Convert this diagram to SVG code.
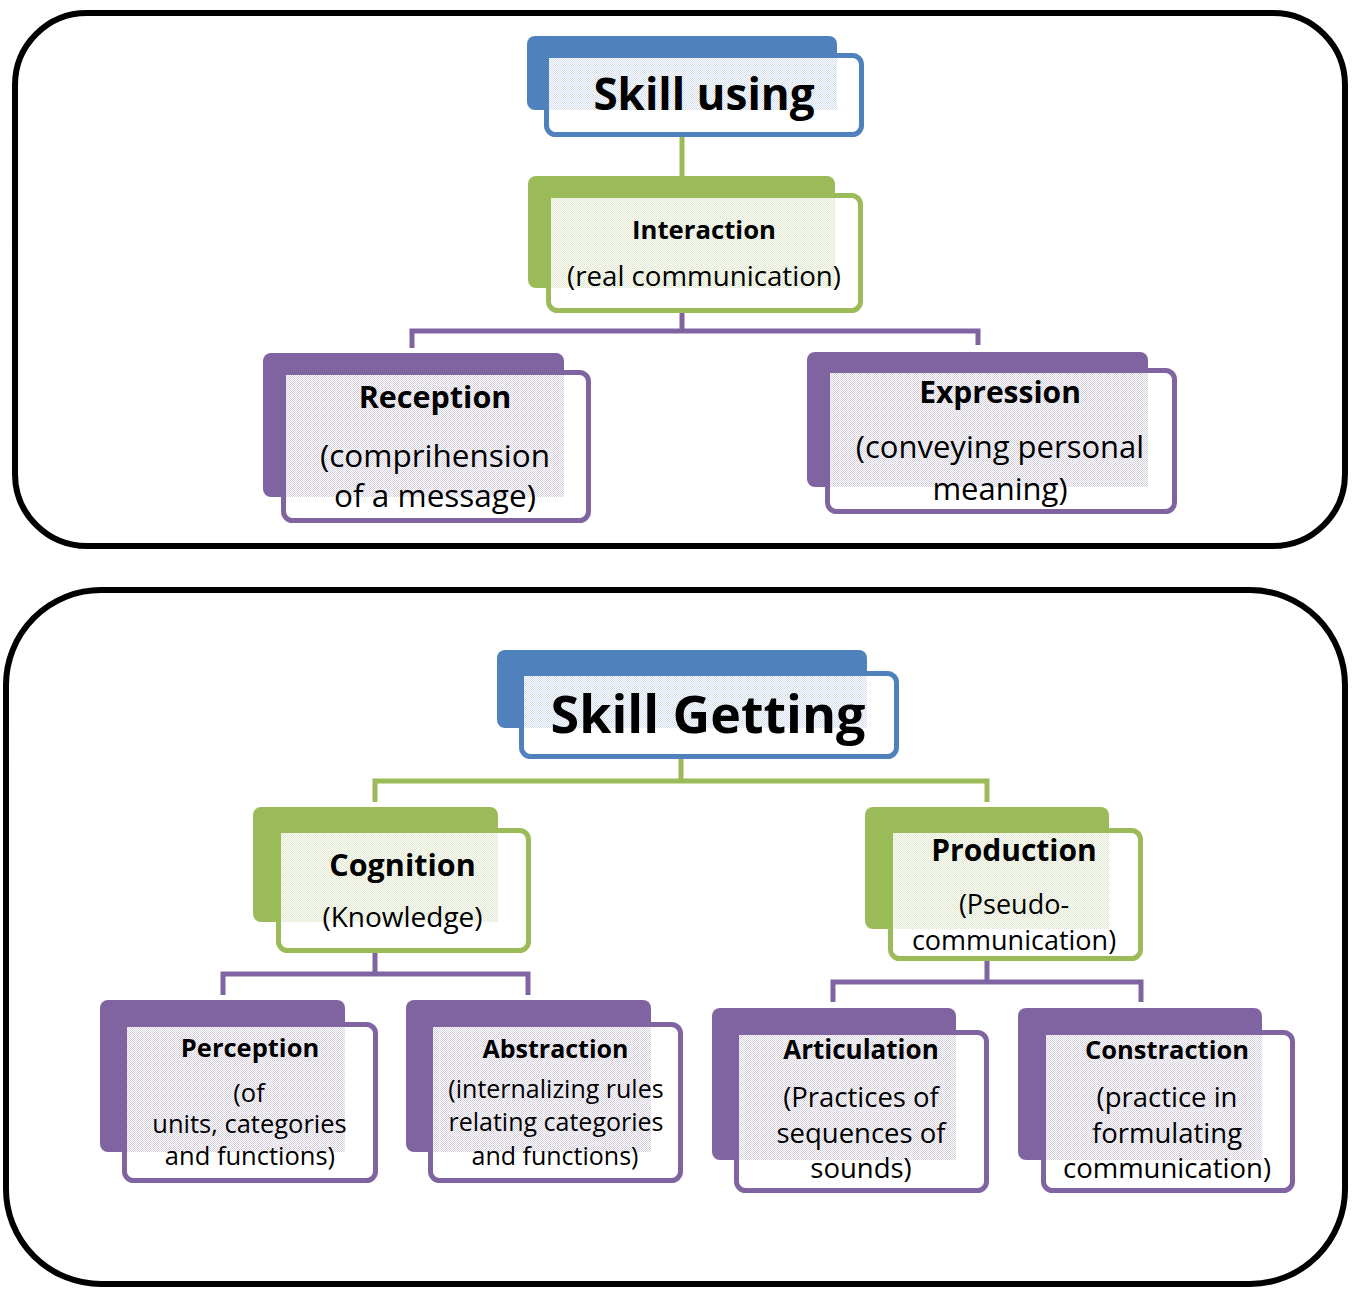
<svg xmlns="http://www.w3.org/2000/svg" width="1356" height="1289" viewBox="0 0 1356 1289">
<defs>
<pattern id="pb" width="2" height="2" patternUnits="userSpaceOnUse"><rect width="2" height="2" fill="#fff"/><rect width="1" height="1" fill="#d0dcee"/><rect x="1" y="1" width="1" height="1" fill="#d0dcee"/></pattern>
<pattern id="pg" width="2" height="2" patternUnits="userSpaceOnUse"><rect width="2" height="2" fill="#fff"/><rect width="1" height="1" fill="#dde6cb"/><rect x="1" y="1" width="1" height="1" fill="#dde6cb"/></pattern>
<pattern id="pp" width="2" height="2" patternUnits="userSpaceOnUse"><rect width="2" height="2" fill="#fff"/><rect width="1" height="1" fill="#d6cfe0"/><rect x="1" y="1" width="1" height="1" fill="#d6cfe0"/></pattern>
</defs>
<style>
.frame{fill:none;stroke:#000;stroke-width:6}
.bb{fill:#4F81BD}.bg{fill:#9BBB59}.bp{fill:#8064A2}
.fb{fill:#fff;stroke:#4F81BD;stroke-width:5}
.fg{fill:#fff;stroke:#9BBB59;stroke-width:5}
.fp{fill:#fff;stroke:#8064A2;stroke-width:5}
.cg{fill:none;stroke:#9BBB59;stroke-width:5}
.cp{fill:none;stroke:#8064A2;stroke-width:5}
text{font-family:"Open Sans","Noto Sans","Liberation Sans",sans-serif;fill:#000;text-anchor:middle}
.t{font-weight:bold}
</style>
<rect class="frame" x="15" y="13" width="1330" height="533" rx="72"/>
<rect class="frame" x="6" y="590" width="1339" height="694" rx="95"/>
<g id="connectors">
<path class="cg" d="M682,137V193"/>
<path class="cp" d="M682,313V331M412,348V331H978V345"/>
<path class="cg" d="M681,759V781M375,802V781H987V802"/>
<path class="cp" d="M375,953V974M223,995V974H528V995"/>
<path class="cp" d="M987,961V982M833,1002V982H1141V1002"/>
</g>
<g id="skill-using">
<rect class="bb" x="527" y="36" width="310" height="74" rx="8"/>
<rect class="fb" x="546.5" y="55.5" width="315" height="79" rx="9"/>
<rect fill="url(#pb)" x="549" y="58" width="288" height="52"/>
<text class="t" x="704" y="110" font-size="44">Skill using</text>
</g>
<g id="interaction">
<rect class="bg" x="528" y="176" width="307" height="112" rx="8"/>
<rect class="fg" x="548.5" y="195.5" width="312" height="115" rx="9"/>
<rect fill="url(#pg)" x="551" y="198" width="284" height="90"/>
<text class="t" x="704" y="239" font-size="25.7">Interaction</text>
<text x="704" y="286" font-size="27.7">(real communication)</text>
</g>
<g id="reception">
<rect class="bp" x="263" y="353" width="301" height="144" rx="8"/>
<rect class="fp" x="283.5" y="372.5" width="305" height="148" rx="9"/>
<rect fill="url(#pp)" x="286" y="375" width="278" height="122"/>
<text class="t" x="435" y="408" font-size="30.5">Reception</text>
<text x="435" y="467" font-size="31.5">(comprihension</text>
<text x="435" y="507" font-size="31.5">of a message)</text>
</g>
<g id="expression">
<rect class="bp" x="807" y="352" width="341" height="135" rx="8"/>
<rect class="fp" x="827.5" y="370.5" width="347" height="141" rx="9"/>
<rect fill="url(#pp)" x="830" y="373" width="318" height="114"/>
<text class="t" x="1000" y="403" font-size="30">Expression</text>
<text x="1000" y="458" font-size="31">(conveying personal</text>
<text x="1000" y="500" font-size="31">meaning)</text>
</g>
<g id="skill-getting">
<rect class="bb" x="497" y="650" width="370" height="78" rx="8"/>
<rect class="fb" x="521.5" y="673.5" width="375" height="83" rx="9"/>
<rect fill="url(#pb)" x="524" y="676" width="343" height="52"/>
<text class="t" x="708" y="733" font-size="52">Skill Getting</text>
</g>
<g id="cognition">
<rect class="bg" x="253" y="807" width="245" height="115" rx="8"/>
<rect class="fg" x="278.5" y="830.5" width="250" height="120" rx="9"/>
<rect fill="url(#pg)" x="281" y="833" width="217" height="89"/>
<text class="t" x="402.5" y="876" font-size="30.5">Cognition</text>
<text x="402.5" y="927" font-size="28">(Knowledge)</text>
</g>
<g id="production">
<rect class="bg" x="865" y="807" width="244" height="122" rx="8"/>
<rect class="fg" x="890.5" y="830.5" width="250" height="128" rx="9"/>
<rect fill="url(#pg)" x="893" y="833" width="216" height="96"/>
<text class="t" x="1014" y="861" font-size="30">Production</text>
<text x="1014" y="914" font-size="27">(Pseudo-</text>
<text x="1014" y="950" font-size="27">communication)</text>
</g>
<g id="perception">
<rect class="bp" x="100" y="1000" width="245" height="152" rx="8"/>
<rect class="fp" x="124.5" y="1024.5" width="251" height="156" rx="9"/>
<rect fill="url(#pp)" x="127" y="1027" width="218" height="125"/>
<text class="t" x="250" y="1057" font-size="25.5">Perception</text>
<text x="249" y="1102" font-size="25.5">(of</text>
<text x="249.5" y="1133" font-size="25.5">units, categories</text>
<text x="250" y="1165" font-size="25.5">and functions)</text>
</g>
<g id="abstraction">
<rect class="bp" x="406" y="1000" width="245" height="152" rx="8"/>
<rect class="fp" x="430.5" y="1024.5" width="250" height="156" rx="9"/>
<rect fill="url(#pp)" x="433" y="1027" width="218" height="125"/>
<text class="t" x="555.5" y="1058" font-size="25">Abstraction</text>
<text x="556" y="1098" font-size="25">(internalizing rules</text>
<text x="556" y="1131" font-size="25">relating categories</text>
<text x="555" y="1165" font-size="25">and functions)</text>
</g>
<g id="articulation">
<rect class="bp" x="712" y="1008" width="244" height="152" rx="8"/>
<rect class="fp" x="736.5" y="1032.5" width="250" height="158" rx="9"/>
<rect fill="url(#pp)" x="739" y="1035" width="217" height="125"/>
<text class="t" x="861" y="1059" font-size="26">Articulation</text>
<text x="861" y="1107" font-size="27.5">(Practices of</text>
<text x="861" y="1143" font-size="27.5">sequences of</text>
<text x="861" y="1178" font-size="27.5">sounds)</text>
</g>
<g id="constraction">
<rect class="bp" x="1018" y="1008" width="244" height="152" rx="8"/>
<rect class="fp" x="1043.5" y="1032.5" width="249" height="158" rx="9"/>
<rect fill="url(#pp)" x="1046" y="1035" width="216" height="125"/>
<text class="t" x="1167" y="1059" font-size="25.5">Constraction</text>
<text x="1167" y="1107" font-size="27.5">(practice in</text>
<text x="1167" y="1143" font-size="27.5">formulating</text>
<text x="1167" y="1178" font-size="27.5">communication)</text>
</g>
</svg>
